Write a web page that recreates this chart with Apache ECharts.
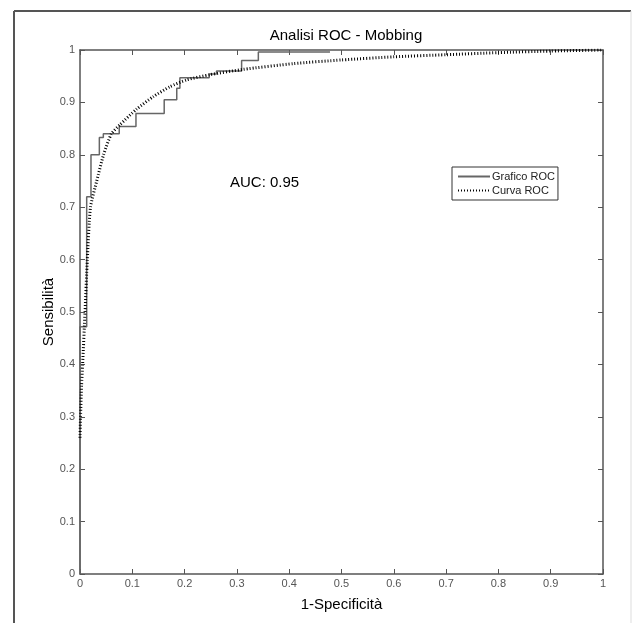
<!DOCTYPE html>
<html>
<head>
<meta charset="utf-8">
<script src="https://cdn.jsdelivr.net/npm/echarts@6/dist/echarts.min.js"></script>
<style>html,body{margin:0;padding:0;background:#fff}#c{width:632px;height:623px}</style>
</head>
<body>
<div id="c"></div>
<script>
// Empirical (step) ROC curve — "Grafico ROC"
var stepX = [0, 0, 0.0128, 0.0128, 0.021, 0.021, 0.037, 0.037, 0.0446, 0.0446, 0.075, 0.075, 0.107, 0.107, 0.161, 0.161, 0.185, 0.185, 0.191, 0.191, 0.247, 0.247, 0.261, 0.261, 0.309, 0.309, 0.341, 0.341, 0.478];
var stepY = [0, 0.472, 0.472, 0.72, 0.72, 0.80, 0.80, 0.833, 0.833, 0.84, 0.84, 0.854, 0.854, 0.879, 0.879, 0.905, 0.905, 0.927, 0.927, 0.947, 0.947, 0.954, 0.954, 0.96, 0.96, 0.98, 0.98, 0.996, 0.996];
// Fitted (smooth) ROC curve — "Curva ROC"
var fitX = [0, 0.001, 0.003, 0.005, 0.0096, 0.014, 0.020, 0.032, 0.045, 0.06, 0.076, 0.108, 0.14, 0.172, 0.204, 0.249, 0.312, 0.408, 0.5, 0.6, 0.7, 0.8, 0.9, 1];
var fitY = [0.26, 0.30, 0.36, 0.40, 0.50, 0.60, 0.70, 0.75, 0.80, 0.84, 0.857, 0.887, 0.911, 0.93, 0.943, 0.953, 0.963, 0.974, 0.981, 0.987, 0.991, 0.995, 0.998, 1];
var seriesNames = ['Grafico ROC', 'Curva ROC'];
var titleText = 'Analisi ROC - Mobbing';
var xName = '1-Specificità';
var yName = 'Sensibilità';
var aucText = 'AUC: 0.95';

function pairs(xs, ys) { return xs.map(function (x, i) { return [x, ys[i]]; }); }

var FONT = '"Liberation Sans", Arial, sans-serif';
var axisCol = '#555';
function mkAxis(pos, showLabel, name) {
  return {
    type: 'value', min: 0, max: 1, interval: 0.1, position: pos,
    name: name || '', nameLocation: 'middle', nameMoveOverlap: false,
    nameTextStyle: { fontFamily: FONT, fontSize: 15, color: '#000' },
    axisLine: { show: true, onZero: false, lineStyle: { color: axisCol, width: 1.5 } },
    axisTick: { show: true, inside: true, length: 5, lineStyle: { color: axisCol, width: 1 } },
    splitLine: { show: false },
    axisLabel: { show: showLabel, fontFamily: FONT, fontSize: 11, color: '#555', margin: 4 }
  };
}
var xAxes = [mkAxis('bottom', true, xName), mkAxis('top', false)];
xAxes[0].nameGap = 23;
var yAxes = [mkAxis('left', true, yName), mkAxis('right', false)];
yAxes[0].nameGap = 24;
yAxes[0].axisLabel.margin = 5;

var chart = echarts.init(document.getElementById('c'), null, { renderer: 'canvas' });
chart.setOption({
  animation: false,
  backgroundColor: '#fff',
  title: { text: titleText, left: 341, top: 23, textAlign: 'center',
    textStyle: { fontFamily: FONT, fontSize: 15, fontWeight: 'normal', color: '#000' } },
  grid: { left: 80, top: 50, width: 523, height: 524, containLabel: false },
  xAxis: xAxes,
  yAxis: yAxes,
  legend: {
    orient: 'vertical', left: 452, top: 167,
    data: seriesNames,
    borderColor: '#333', borderWidth: 1, padding: [4, 3, 4, 5], itemGap: 3,
    itemWidth: 32, itemHeight: 10,
    itemStyle: { color: 'rgba(0,0,0,0)', borderWidth: 0, opacity: 0 },
    textStyle: { fontFamily: FONT, fontSize: 11, color: '#222', padding: [0, 0, 0, -3] }
  },
  graphic: [
    { type: 'line', shape: { x1: 14, y1: 11, x2: 631, y2: 11 }, style: { stroke: '#555', lineWidth: 2 } },
    { type: 'line', shape: { x1: 14, y1: 11, x2: 14, y2: 623 }, style: { stroke: '#555', lineWidth: 2 } },
    { type: 'line', shape: { x1: 631, y1: 11, x2: 631, y2: 623 }, style: { stroke: '#ddd', lineWidth: 1 } },
    { type: 'text', left: 230, top: 175, style: { text: aucText, font: '15px ' + FONT, fill: '#000' } }
  ],
  series: [
    { name: seriesNames[0], type: 'line', data: pairs(stepX, stepY), symbol: 'none', showSymbol: false,
      lineStyle: { color: '#666', width: 1.5 }, itemStyle: { color: '#666' }, z: 3 },
    { name: seriesNames[1], type: 'line', data: pairs(fitX, fitY), symbol: 'none', showSymbol: false,
      smooth: 0.2,
      lineStyle: { color: '#000', width: 3, type: [1, 2], cap: 'butt' }, itemStyle: { color: '#000' }, z: 4 }
  ]
});
</script>
</body>
</html>
